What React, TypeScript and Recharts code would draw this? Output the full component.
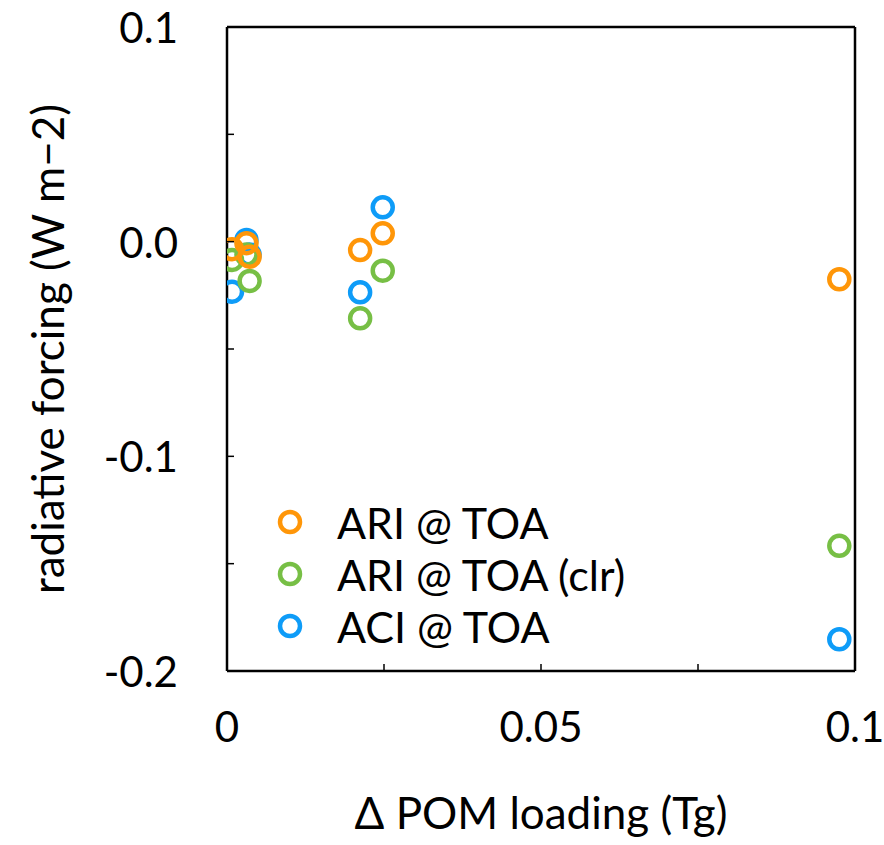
import React from "react";
import {
  Legend,
  ReferenceLine,
  Scatter,
  ScatterChart,
  XAxis,
  YAxis,
} from "recharts";

// Δ POM loading (Tg), shared by the three series
const pomLoading = [0.0008, 0.0031, 0.0036, 0.0212, 0.0248, 0.0975];

// radiative forcing (W m-2)
const ariToa = [-0.0035, -0.0007, -0.007, -0.0039, 0.0039, -0.0175];
const ariToaClr = [-0.0085, -0.006, -0.0183, -0.0357, -0.0135, -0.1417];
const aciToa = [-0.0233, 0.0008, -0.006, -0.0236, 0.016, -0.1852];

const yLabelTicks = [-0.2, -0.1, 0, 0.1];
const yAllTicks = [-0.2, -0.15, -0.1, -0.05, 0, 0.05, 0.1];
const xLabelTicks = [0, 0.05, 0.1];
const xAllTicks = [0, 0.025, 0.05, 0.075, 0.1];

const FONT = "Lato, 'Open Sans', sans-serif";
const X_MARGIN = 41;
const Y_MARGIN = 49;
const TICK_LEN = 7;

const series = [
  { name: "ARI @ TOA", color: "#FF9608", values: ariToa },
  { name: "ARI @ TOA (clr)", color: "#77BF45", values: ariToaClr },
  { name: "ACI @ TOA", color: "#0E9CF8", values: aciToa },
];

const toPoints = (values: number[]) =>
  pomLoading.map((x, i) => ({ x, y: values[i] }));

const ring = (color: string) => (props: any) =>
  (
    <circle
      cx={props.cx}
      cy={props.cy}
      r={10}
      fill="none"
      stroke={color}
      strokeWidth={4.5}
    />
  );

const frame = { stroke: "#000", strokeWidth: 2.5 };

const hasLabel = (list: number[], v: number) =>
  list.some((t) => Math.abs(t - v) < 1e-9);

// bottom axis: inward tick + label only at 0, 0.05, 0.1
function XTick(props: any) {
  const { x, y, payload } = props;
  const axisY = y - X_MARGIN;
  const v = payload.value as number;
  return (
    <g>
      <line x1={x} x2={x} y1={axisY} y2={axisY - TICK_LEN} stroke="#000" strokeWidth={1.5} />
      {hasLabel(xLabelTicks, v) && (
        <text
          x={x}
          y={y}
          dy="0.71em"
          textAnchor="middle"
          fontFamily={FONT}
          fontSize={42}
          fill="#000"
        >
          {v === 0 ? "0" : String(v)}
        </text>
      )}
    </g>
  );
}

// left axis: inward tick + label only at 0.1, 0.0, -0.1, -0.2
function YTick(props: any) {
  const { x, y, payload } = props;
  const axisX = x + Y_MARGIN;
  const v = payload.value as number;
  return (
    <g>
      <line x1={axisX} x2={axisX + TICK_LEN} y1={y} y2={y} stroke="#000" strokeWidth={1.5} />
      {hasLabel(yLabelTicks, v) && (
        <text
          x={x}
          y={y}
          textAnchor="end"
          dominantBaseline="central"
          fontFamily={FONT}
          fontSize={42}
          fill="#000"
        >
          {v === 0 ? "0.0" : v.toFixed(1)}
        </text>
      )}
    </g>
  );
}

function LegendBox() {
  return (
    <div style={{ fontFamily: FONT, fontSize: 43, color: "#000" }}>
      {series.map((s) => (
        <div
          key={s.name}
          style={{ display: "flex", alignItems: "center", height: 52 }}
        >
          <svg width={28} height={28} style={{ marginRight: 33 }}>
            <circle
              cx={14}
              cy={14}
              r={10}
              fill="none"
              stroke={s.color}
              strokeWidth={4.5}
            />
          </svg>
          <span>{s.name}</span>
        </div>
      ))}
    </div>
  );
}

export default function App() {
  return (
    <div style={{ position: "absolute", left: 0, top: 0, background: "#fff" }}>
      <ScatterChart
        width={884}
        height={845}
        margin={{ top: 27, right: 29, bottom: 24, left: 27 }}
      >
        <XAxis
          type="number"
          dataKey="x"
          domain={[0, 0.1]}
          ticks={xAllTicks}
          tickLine={false}
          tickSize={0}
          tickMargin={X_MARGIN}
          axisLine={frame}
          tick={<XTick />}
          height={150}
          allowDataOverflow
          label={{
            content: ({ viewBox }: any) => (
              <text
                x={viewBox.x + viewBox.width / 2}
                y={viewBox.y + 141}
                textAnchor="middle"
                dominantBaseline="central"
                fontFamily={FONT}
                fontSize={44}
                fill="#000"
              >
                Δ POM loading (Tg)
              </text>
            ),
          }}
        />
        <YAxis
          type="number"
          dataKey="y"
          domain={[-0.2, 0.1]}
          ticks={yAllTicks}
          tickLine={false}
          tickSize={0}
          tickMargin={Y_MARGIN}
          axisLine={frame}
          tick={<YTick />}
          width={200}
          allowDataOverflow
          label={{
            content: ({ viewBox }: any) => {
              const cx = viewBox.x + 20;
              const cy = viewBox.y + viewBox.height / 2;
              return (
                <text
                  x={cx}
                  y={cy}
                  transform={`rotate(-90, ${cx}, ${cy})`}
                  textAnchor="middle"
                  dominantBaseline="central"
                  fontFamily={FONT}
                  fontSize={44}
                  fill="#000"
                >
                  radiative forcing (W m−2)
                </text>
              );
            },
          }}
        />
        <ReferenceLine y={0.1} {...frame} />
        <ReferenceLine x={0.1} {...frame} />
        {[...series].reverse().map((s) => (
          <Scatter
            key={s.name}
            name={s.name}
            data={toPoints(s.values)}
            shape={ring(s.color)}
            isAnimationActive={false}
          />
        ))}
        <Legend
          layout="vertical"
          align="center"
          verticalAlign="middle"
          content={() => <LegendBox />}
          wrapperStyle={{ left: 276, top: 496, width: 460, height: "auto" }}
        />
      </ScatterChart>
    </div>
  );
}
